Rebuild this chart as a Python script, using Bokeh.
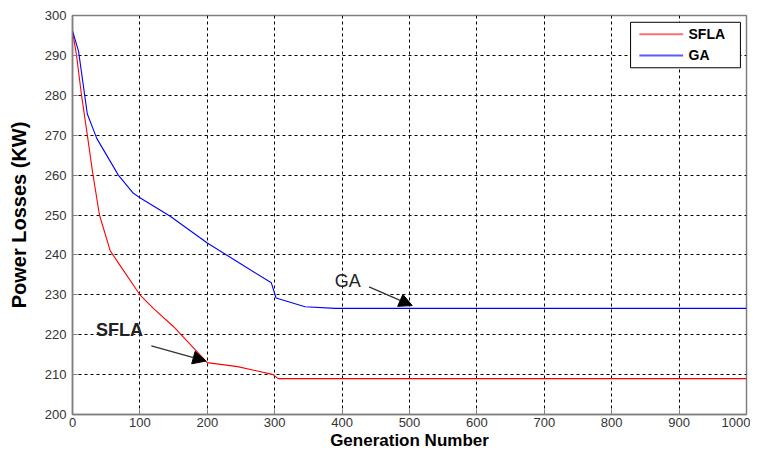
from bokeh.plotting import figure
from bokeh.models import Arrow, NormalHead, Label, BoxAnnotation, FixedTicker, Range1d
from bokeh.embed import file_html
from bokeh.resources import INLINE

# Data
sfla_x = [0, 6, 13, 22, 30, 40, 56, 70, 100, 120, 150, 200, 245, 298, 305, 1000]
sfla_y = [296, 290, 280.5, 270, 260.5, 250, 241, 237.5, 230, 226.6, 222, 213, 212, 210, 209, 209]
ga_x = [0, 9, 22, 36, 68, 90, 100, 145, 200, 250, 295, 302, 345, 390, 1000]
ga_y = [296.2, 291, 275.3, 269.2, 260, 255.5, 254.3, 249.7, 243, 237.7, 233, 229.2, 227, 226.6, 226.6]
x_ticks = [0, 100, 200, 300, 400, 500, 600, 700, 800, 900, 1000]
y_ticks = [200, 210, 220, 230, 240, 250, 260, 270, 280, 290, 300]
series_names = ["SFLA", "GA"]
series_colors = ["#ff0000", "#0000ff"]
key_colors = ["#ff6f6f", "#5a5aff"]

# annotations (data coordinates)
sfla_label = (35, 218.6, "SFLA")
sfla_arrow = (117, 217.2, 198, 213.4)
ga_label = (389, 231.0, "GA")
ga_arrow = (440, 232.0, 504, 227.3)

# legend box layout (in plot coordinates, top-right corner)
leg_box = dict(left=828, right=991, top=298.3, bottom=286.9)
leg_key_x = (841, 906)
leg_text_x = 914
leg_rows_y = [295.3, 290.0]

p = figure(width=750, height=452, output_backend="svg", toolbar_location=None,
           x_range=Range1d(0, 1000), y_range=Range1d(200, 300),
           min_border_left=72, min_border_right=4, min_border_top=15, min_border_bottom=36)
p.background_fill_color = "white"
p.border_fill_color = "white"
p.outline_line_color = "#7f7f7f"
p.outline_line_width = 1.5

for ax in (p.xaxis[0], p.yaxis[0]):
    ax.major_label_text_font = "Liberation Sans"
    ax.major_label_text_font_size = "13px"
    ax.major_label_text_color = "#333333"
    ax.axis_line_color = "#7f7f7f"
    ax.axis_line_width = 1.5
    ax.major_tick_line_color = "#7f7f7f"
    ax.major_tick_in = 5
    ax.major_tick_out = 0
    ax.minor_tick_line_color = None
    ax.axis_label_text_font = "Liberation Sans"
    ax.axis_label_text_font_style = "bold"
    ax.axis_label_text_color = "black"

p.xaxis.ticker = FixedTicker(ticks=x_ticks)
p.yaxis.ticker = FixedTicker(ticks=y_ticks)
p.xaxis.axis_label = "Generation Number"
p.xaxis.axis_label_text_font_size = "17px"
p.xaxis.axis_label_standoff = 1
p.xaxis.major_label_standoff = 3
p.yaxis.axis_label = "Power Losses (KW)"
p.yaxis.axis_label_text_font_size = "20px"
p.yaxis.axis_label_standoff = 12
p.yaxis.major_label_standoff = 6

p.grid.grid_line_color = "black"
p.grid.grid_line_dash = "3 3"
p.grid.grid_line_width = 1
p.xgrid.ticker = FixedTicker(ticks=x_ticks)
p.ygrid.ticker = FixedTicker(ticks=y_ticks)

p.line(x=sfla_x, y=sfla_y, line_color=series_colors[0], line_width=1.1)
p.line(x=ga_x, y=ga_y, line_color=series_colors[1], line_width=1.1)

# legend drawn by hand
p.add_layout(BoxAnnotation(left=leg_box["left"], right=leg_box["right"],
                           top=leg_box["top"], bottom=leg_box["bottom"],
                           fill_color="white", fill_alpha=1,
                           line_color="black", line_alpha=1, line_width=1, level="glyph"))
p.segment(x0=[leg_key_x[0]] * 2, x1=[leg_key_x[1]] * 2, y0=leg_rows_y, y1=leg_rows_y,
          line_color=key_colors, line_width=2, level="annotation")
for name, yy in zip(series_names, leg_rows_y):
    p.add_layout(Label(x=leg_text_x, y=yy, text=name, text_font="Liberation Sans",
                       text_font_size="14px", text_font_style="bold", text_color="black",
                       text_baseline="middle"))

for (x, y, t), bold in ((sfla_label, "bold"), (ga_label, "normal")):
    p.add_layout(Label(x=x, y=y, text=t, text_font="Liberation Sans", text_font_size="18px",
                       text_font_style=bold, text_color="#222222"))

for (x0, y0, x1, y1) in (sfla_arrow, ga_arrow):
    p.add_layout(Arrow(x_start=x0, y_start=y0, x_end=x1, y_end=y1,
                       line_color="#333333", line_width=1.3,
                       end=NormalHead(size=13, fill_color="black", line_color="black")))

open("out.html", "w").write(file_html(p, INLINE))
